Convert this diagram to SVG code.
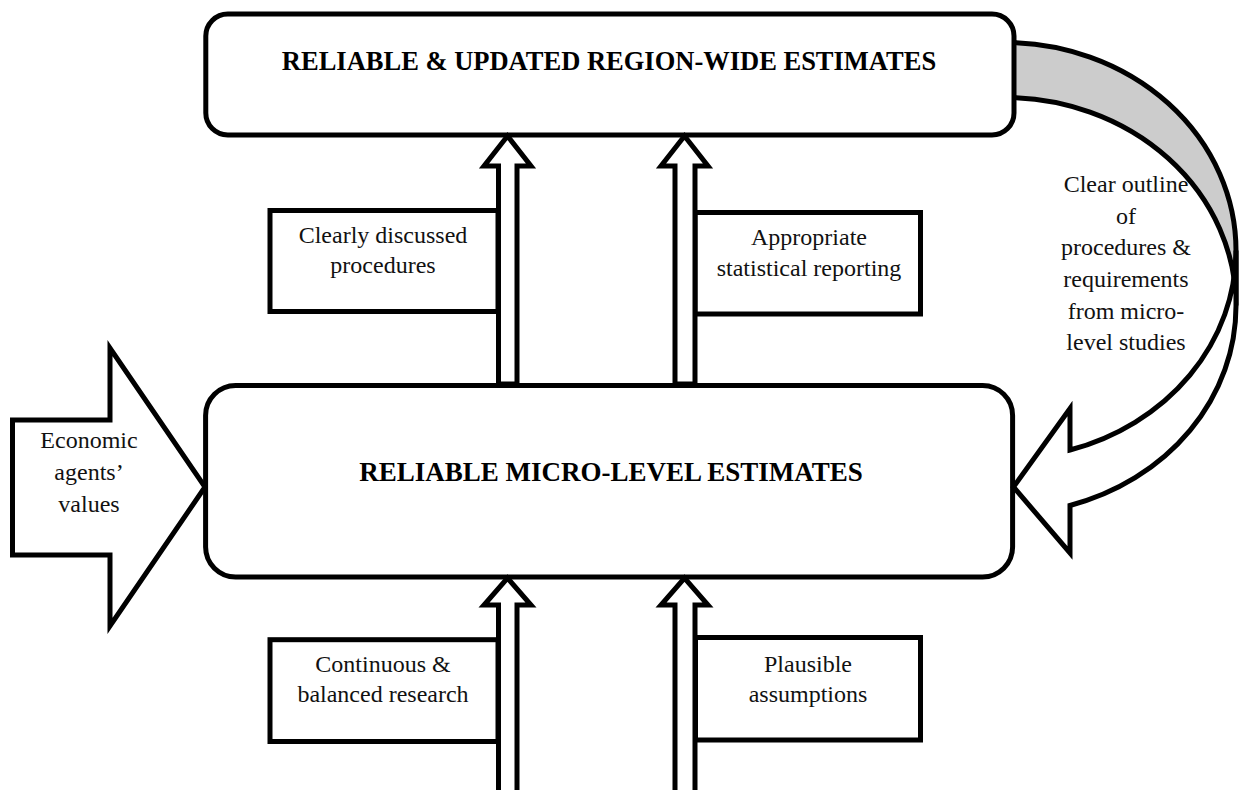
<svg xmlns="http://www.w3.org/2000/svg" width="1243" height="790" viewBox="0 0 1243 790">
<style>
.ln{stroke:#000;stroke-width:5;stroke-linejoin:miter;stroke-miterlimit:10}
.w{fill:#fff}
.g{fill:#cccccc}
.t{font-family:"Liberation Serif","Times New Roman",serif;font-size:24px;fill:#111;text-anchor:middle}
.h{font-family:"Liberation Serif","Times New Roman",serif;font-size:26.5px;font-weight:bold;fill:#000;text-anchor:middle}
</style>
<rect width="1243" height="790" fill="#fff"/>
<g id="connectors-back">
  <path id="curved-back" class="ln g" d="M1005 42.5 A231 208 0 0 1 1236 250.5 L1236 305.5 A231 208 0 0 0 1005 97.5 Z"/>
</g>
<g id="top-box">
  <rect class="ln w" x="205.8" y="14" width="808.2" height="121" rx="22"/>
  <text class="h" x="609" y="70">RELIABLE &amp; UPDATED REGION-WIDE ESTIMATES</text>
</g>
<g id="bottom-box">
  <rect class="ln w" x="205.6" y="385.5" width="807" height="191.5" rx="30"/>
  <text class="h" x="611" y="481" style="font-size:27px">RELIABLE MICRO-LEVEL ESTIMATES</text>
</g>
<g id="box-procedures">
  <rect class="ln w" x="270" y="210.5" width="228" height="101"/>
  <text class="t" x="383" y="243">Clearly discussed</text>
  <text class="t" x="383" y="273">procedures</text>
</g>
<g id="box-reporting">
  <rect class="ln w" x="695" y="212.5" width="225.5" height="101.5"/>
  <text class="t" x="809" y="245">Appropriate</text>
  <text class="t" x="809" y="276">statistical reporting</text>
</g>
<g id="box-research">
  <rect class="ln w" x="270" y="639.7" width="228" height="101.8"/>
  <text class="t" x="383" y="672">Continuous &amp;</text>
  <text class="t" x="383" y="702">balanced research</text>
</g>
<g id="box-assumptions">
  <rect class="ln w" x="695.5" y="637.5" width="225" height="102.5"/>
  <text class="t" x="808" y="672">Plausible</text>
  <text class="t" x="808" y="702">assumptions</text>
</g>
<g id="connectors">
  <path id="up-1" class="ln w" d="M498.5 384 L498.5 166 L484 166 L507.5 136 L531 166 L517 166 L517 384 Z"/>
  <path id="up-2" class="ln w" d="M675 384 L675 166 L661 166 L684.5 136 L708 166 L695 166 L695 384 Z"/>
  <path id="up-3" class="ln w" d="M498.5 800 L498.5 605 L484 605 L507.5 578 L531 605 L517 605 L517 800 Z"/>
  <path id="up-4" class="ln w" d="M675 800 L675 605 L661 605 L684.5 578 L708 605 L695 605 L695 800 Z"/>
  <path id="left-arrow" class="ln w" d="M12.5 420 L110 420 L110 348 L205 487 L110 626 L110 555 L12.5 555 Z"/>
  <path id="curved-front" class="ln w" d="M1236 250.5 A231 208 0 0 1 1070 450 L1070 408.5 L1013.5 487 L1070 553 L1070 505.5 A231 208 0 0 0 1236 305.5 Z"/>
</g>
<g id="labels">
  <text class="t" x="89" y="448">Economic</text>
  <text class="t" x="89" y="480">agents’</text>
  <text class="t" x="89" y="512">values</text>
  <text class="t" x="1126" y="192">Clear outline</text>
  <text class="t" x="1126" y="223.5">of</text>
  <text class="t" x="1126" y="255">procedures &amp;</text>
  <text class="t" x="1126" y="287">requirements</text>
  <text class="t" x="1126" y="318.5">from micro-</text>
  <text class="t" x="1126" y="350">level studies</text>
</g>
</svg>
